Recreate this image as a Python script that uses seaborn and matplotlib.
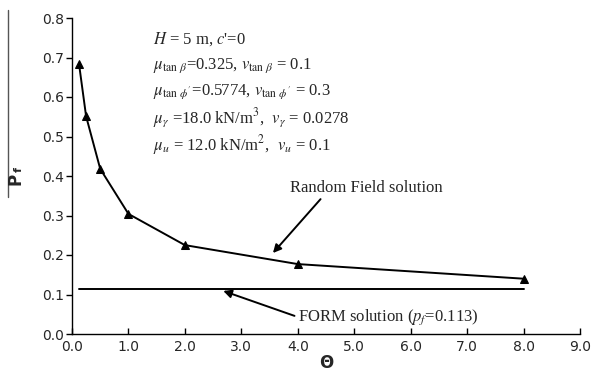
import matplotlib
matplotlib.use("Agg")
import matplotlib.pyplot as plt
import seaborn as sns
import pandas as pd
from matplotlib.lines import Line2D

theta = [0.125, 0.25, 0.5, 1.0, 2.0, 4.0, 8.0]
pf = [0.683, 0.551, 0.418, 0.304, 0.225, 0.177, 0.140]
form_x = [0.125, 8.0]
form_pf = [0.113, 0.113]
xticks = [0, 1, 2, 3, 4, 5, 6, 7, 8, 9]
yticks = [0.0, 0.1, 0.2, 0.3, 0.4, 0.5, 0.6, 0.7, 0.8]

sns.set_theme(style="white")
plt.rcParams['font.family'] = ['DejaVu Sans']
plt.rcParams['mathtext.fontset'] = 'stix'

fig = plt.figure(figsize=(5.96, 3.84), dpi=100)
ax = fig.add_axes([72/596, 50/384, 508/596, 316/384])

df = pd.DataFrame({"theta": theta, "pf": pf})
sns.lineplot(data=df, x="theta", y="pf", ax=ax, color="black", lw=1.4,
             marker="^", markersize=6, markeredgecolor="black", markerfacecolor="black")
sns.lineplot(x=form_x, y=form_pf, ax=ax, color="black", lw=1.4)

ax.set_xlim(0, 9)
ax.set_ylim(0, 0.8)
ax.set_xticks(xticks)
ax.set_xticklabels([f"{v:.1f}" for v in xticks])
ax.set_yticks(yticks)
ax.set_yticklabels([f"{v:.1f}" for v in yticks])
for s in ["top", "right"]:
    ax.spines[s].set_visible(False)
for s in ["left", "bottom"]:
    ax.spines[s].set_color("black")
    ax.spines[s].set_linewidth(1.0)
ax.tick_params(axis="y", direction="out", length=4, width=1, color="black", labelsize=10, pad=2)
ax.tick_params(axis="x", direction="in", length=4, width=1, color="black", labelsize=10, pad=4)
ax.tick_params(left=True, bottom=True)
ax.set_xlabel("Θ", fontsize=12, fontweight="bold", labelpad=0)
ax.set_ylabel("")
fig.text(15/596, 1 - 179/384, "P", rotation=90, fontsize=12, fontweight="bold",
         ha="center", va="center")
fig.text(19/596, 1 - 169/384, "f", rotation=90, fontsize=8, fontweight="bold",
         ha="center", va="center")
fig.add_artist(Line2D([8/596, 8/596], [1-10/384, 1-197/384], color="#555555", lw=1))

serif = "Liberation Serif"
lines = [
    r"$H$ = 5 m, $c$'=0",
    r"$\mu_{\tan\,\beta}$=0.325, $v_{\tan\,\beta}$ = 0.1",
    r"$\mu_{\tan\,\phi'}$=0.5774, $v_{\tan\,\phi'}$ = 0.3",
    r"$\mu_{\gamma}$ =18.0 kN/m$^3$,  $v_{\gamma}$ = 0.0278",
    r"$\mu_{u}$ = 12.0 kN/m$^2$,  $v_{u}$ = 0.1",
]
ys = [39, 66, 92, 118, 145]
for t, y in zip(lines, ys):
    fig.text(153/596, 1 - y/384, t, fontsize=12, fontfamily=serif, ha="left", va="center")

ax.annotate("Random Field solution", xy=(3.56, 0.205), xytext=(3.86, 0.370),
            fontsize=12, fontfamily=serif, ha="left", va="center",
            arrowprops=dict(arrowstyle="-|>", color="black", lw=1.4,
                            mutation_scale=12, shrinkA=0, shrinkB=0,
                            relpos=(0.22, 0.0)))
ax.annotate(r"FORM solution ($p_f$=0.113)", xy=(2.68, 0.109), xytext=(4.0, 0.043),
            fontsize=12, fontfamily=serif, ha="left", va="center",
            arrowprops=dict(arrowstyle="-|>", color="black", lw=1.4,
                            mutation_scale=12, shrinkA=0, shrinkB=0,
                            relpos=(0.0, 0.5)))

fig.savefig("out.png", dpi=100, facecolor="white")
